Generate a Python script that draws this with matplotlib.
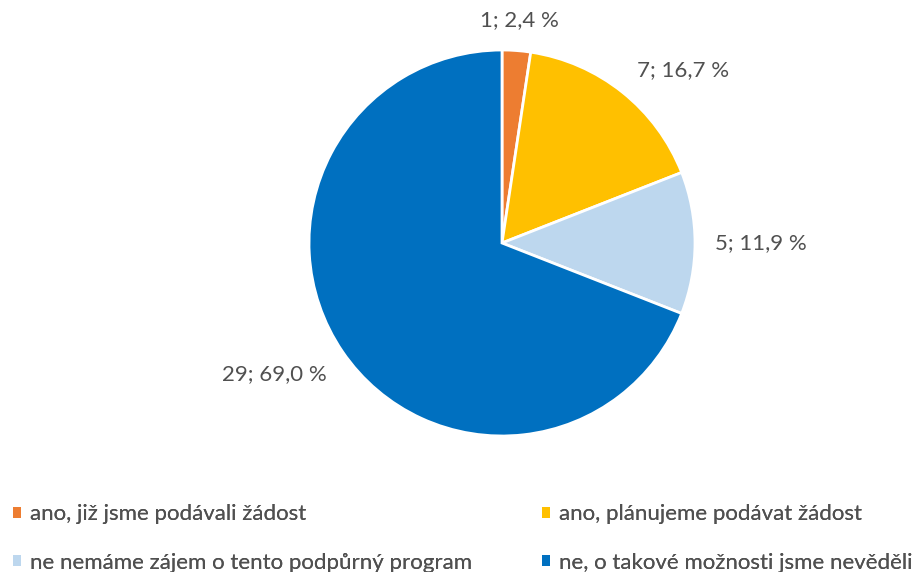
import matplotlib
matplotlib.use("Agg")
import matplotlib.pyplot as plt
from matplotlib.patches import Patch
import numpy as np

categories = ["ano, již jsme podávali žádost", "ano, plánujeme podávat žádost",
              "ne nemáme zájem o tento podpůrný program", "ne, o takové možnosti jsme nevěděli"]
counts = [1, 7, 5, 29]
percents = [2.4, 16.7, 11.9, 69.0]
colors = ["#ED7D31", "#FFC000", "#BDD7EE", "#0070C0"]

plt.rcParams['font.family'] = ['Lato', 'DejaVu Sans']
text_color = "#505050"
FS = 16

fig = plt.figure(figsize=(9.17, 5.72), dpi=100)
r_px = 193
cx, cy = 502, 243
ax = fig.add_axes([(cx - r_px) / 917, (572 - cy - r_px) / 572, 2 * r_px / 917, 2 * r_px / 572])
wedges, _ = ax.pie(counts, colors=colors, startangle=90, counterclock=False,
                   wedgeprops=dict(edgecolor="white", linewidth=2))
ax.set_xlim(-1, 1)
ax.set_ylim(-1, 1)
ax.set_aspect("equal")
ax.axis("off")

# label placement (angle in degrees, distance in radii)
label_angles = [85.5, 43.7, 0.0, -150.0]
label_dist = [1.16, 1.30, 1.34, 1.36]
for c, p, a, d in zip(counts, percents, label_angles, label_dist):
    t = np.deg2rad(a)
    ax.text(d * np.cos(t), d * np.sin(t), f"{c}; {p:.1f} %".replace(".", ","),
            ha="center", va="center", fontsize=FS, color=text_color, clip_on=False)

handles = [Patch(facecolor=c, edgecolor="none") for c in colors]
col_x = [13, 542]
for col in range(2):
    idx = [col, col + 2]
    leg = fig.legend([handles[i] for i in idx], [categories[i] for i in idx],
                     loc="upper left", bbox_to_anchor=(col_x[col] / 917, 1 - 504 / 572),
                     ncol=1, frameon=False, fontsize=FS, borderpad=0, borderaxespad=0,
                     handlelength=0.38, handleheight=0.38, handletextpad=0.4,
                     labelspacing=1.3, labelcolor=text_color)
    fig.add_artist(leg)

fig.savefig("out.png", dpi=100)
